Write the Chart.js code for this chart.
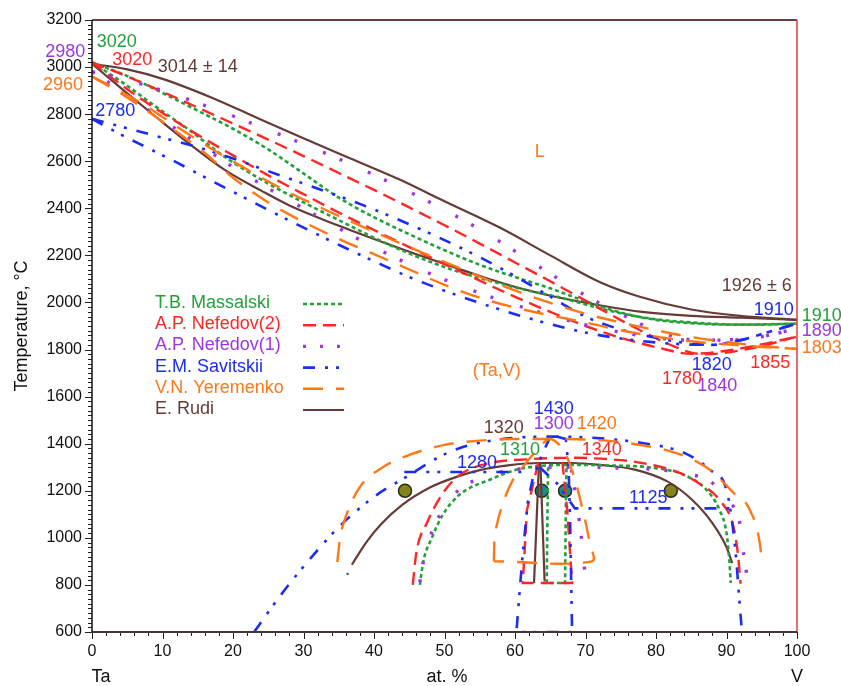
<!DOCTYPE html>
<html>
<head>
<meta charset="utf-8">
<script src="https://cdn.jsdelivr.net/npm/chart.js@4.4.1/dist/chart.umd.min.js"></script>
<style>
  html, body { margin: 0; padding: 0; background: #fff; }
  canvas { display: block; }
</style>
</head>
<body>
<canvas id="phaseChart" width="841" height="686"></canvas>
<script>
// Ta–V phase diagram, points are [at.% V, temperature °C]

// liquidus / solidus
const massalskiLiquidus = [[0,3020],[5,2962],[10,2890],[15,2815],[20,2738],[25,2650],[30,2548],[35,2445],[40,2362],[45,2290],[50,2222],[55,2160],[60,2108],[65,2060],[70,2005],[75,1957],[80,1926],[85,1912],[90,1906],[95,1906],[100,1910]];
const massalskiSolidus = [[0,3020],[4.4,2933],[9,2833],[14,2728],[19,2615],[25,2505],[30,2425],[35,2350],[40,2275],[45,2208],[51,2140],[57,2087],[62,2050],[66,2024],[73,1968],[78,1937],[85,1915],[92,1906],[100,1910]];
const nefedov2Liquidus = [[0,3020],[5,2960],[10,2895],[15,2828],[20,2760],[25,2692],[30,2622],[35,2550],[40,2478],[45,2404],[50,2328],[55,2250],[60,2170],[65,2090],[70,2008],[75,1925],[80,1848],[83,1808],[85,1787],[87,1780],[90,1787],[95,1815],[100,1855]];
const nefedov2Solidus = [[0,3020],[3,2950],[6,2885],[10,2805],[15,2712],[20,2625],[25,2540],[30,2460],[35,2382],[40,2308],[45,2235],[50,2163],[55,2093],[60,2024],[65,1960],[70,1900],[75,1850],[80,1810],[85,1782],[90,1795],[95,1822],[100,1855]];
const nefedov1Liquidus = [[0,2980],[5,2945],[10,2900],[15,2848],[20,2792],[25,2733],[30,2673],[35,2610],[40,2542],[45,2470],[50,2393],[55,2310],[60,2218],[65,2122],[70,2030],[75,1951],[80,1880],[85,1842],[90,1840],[95,1855],[100,1890]];
const nefedov1Solidus = [[0,2980],[3,2922],[6,2860],[9,2797],[12,2735],[16,2655],[20,2575],[25,2485],[30,2400],[35,2315],[40,2235],[45,2162],[50,2097],[55,2040],[60,1990],[65,1945],[70,1905],[75,1873],[80,1850],[85,1840],[90,1841],[95,1855],[100,1890]];
const savitskiiLiquidus = [[0,2780],[5,2740],[10,2700],[15,2660],[20,2612],[25,2558],[30,2505],[35,2452],[40,2395],[45,2332],[50,2265],[55,2192],[60,2112],[65,2025],[70,1940],[75,1885],[80,1850],[85,1825],[88,1820],[92,1840],[96,1875],[100,1910]];
const savitskiiSolidus = [[0,2780],[4,2715],[8,2655],[12,2595],[16,2532],[20,2470],[25,2393],[30,2318],[35,2245],[40,2175],[45,2108],[50,2050],[55,1998],[60,1950],[65,1908],[70,1872],[75,1847],[80,1830],[85,1821],[88,1820],[92,1840],[96,1875],[100,1910]];
const yeremenkoLiquidus = [[0,2960],[4,2898],[8,2828],[12,2748],[17,2652],[22,2565],[27,2482],[33,2395],[40,2300],[47,2210],[53,2135],[59,2062],[65,1998],[70,1952],[75,1915],[80,1882],[85,1853],[90,1832],[95,1815],[100,1803]];
const yeremenkoSolidus = [[0,2960],[4,2890],[8,2810],[12,2725],[16,2635],[20,2530],[25,2425],[30,2342],[35,2270],[40,2205],[45,2140],[50,2075],[55,2020],[60,1978],[65,1945],[70,1915],[75,1882],[80,1855],[85,1835],[90,1822],[95,1811],[100,1803]];
const rudiLiquidus = [[0,3014],[5,2990],[10,2950],[17,2870],[23,2790],[29.5,2704],[36,2620],[43.7,2521],[50,2430],[57.9,2317],[65,2200],[72,2087],[77.7,2024],[85,1970],[91.9,1943],[100,1926]];
const rudiSolidus = [[0,3014],[4.4,2903],[9,2790],[14,2670],[19,2560],[24,2475],[28,2412],[34,2338],[40,2270],[46,2205],[52,2143],[56,2103],[61,2058],[66,2022],[72,1988],[78,1960],[85,1943],[92,1935],[100,1926]];

// miscibility gaps (domes)
const massalskiDome = [[46.5,800],[47,900],[48.2,1000],[49.8,1100],[52.2,1185],[56.5,1248],[60.3,1290],[63.5,1305],[68,1310],[74,1307],[79,1300],[84,1267],[87.2,1203],[89,1119],[90,1021],[90.4,906],[90.6,808]];
const nefedov2Dome = [[45.5,800],[46,936],[47.5,1063],[49.8,1191],[52.2,1268],[56.5,1318],[62,1334],[68,1340],[75,1330],[78,1318],[83,1280],[86,1233],[89,1161],[91,1046],[91.6,936],[92,805]];
const nefedov1Dome = [[46.5,812],[47,900],[48.2,1025],[49.4,1100],[51.9,1200],[56,1262],[60,1290],[65,1300],[70,1300],[74,1297],[80,1290],[84,1274],[88,1233],[90,1161],[92,1046],[92.3,961],[93,821]];
const savitskiiDome = [[23,600],[27,766],[32,948],[35,1046],[40,1174],[45,1267],[49,1340],[52,1380],[56,1410],[60,1425],[65,1430],[71,1425],[78,1403],[84,1361],[87.7,1288],[90,1203],[91,1021],[91.4,900],[91.9,706],[92.2,600]];
const yeremenkoDome = [[34.8,897],[35.2,1000],[36.2,1106],[38,1216],[41.3,1301],[45,1352],[50,1395],[55,1413],[60,1420],[65,1420],[70,1418],[74,1410],[77.7,1395],[81.6,1372],[85,1335],[87.7,1288],[91,1191],[93.3,1119],[94.8,961],[95,897]];
const rudiDome = [[37,893],[39,985],[41,1058],[44,1140],[48,1215],[52,1262],[55,1288],[59,1308],[63.5,1318],[68,1318],[72,1310],[77,1290],[81.6,1240],[85,1165],[88,1063],[90,961],[90.8,893]];
const rudiDomeTail = [[37,893],[36.3,850],[35.7,815]];

// intermetallic (Laves) phase fields
const massalskiLaves = [[64.7,1300],[64.6,1100],[64.5,808],[67.1,808],[67.2,1100],[67.3,1305]];
const nefedov2Laves = [[63.3,1320],[61.7,1119],[61.1,808],[68.1,808],[67.4,1119],[66.7,1330]];
const nefedov1Laves = [[68,1290],[69,1100],[69.7,936],[70,808]];
const savitskiiLavesLeft = [[65,1430],[63.5,1330],[62.5,1250],[61.8,1148],[61,900],[60.2,600],[68.1,600]];
const savitskiiLavesRight = [[66,1430],[67.2,1420],[67.6,1300],[67.8,1090],[68.1,600]];
const savitskiiEutectoid = [[44.3,1280],[61,1280]];
const savitskiiPeritectoid = [[63.5,1300],[66,1230],[68.5,1125],[90.5,1125]];
const yeremenkoLaves = [[57,900],[57.2,1021],[58.3,1148],[59.7,1246],[61.1,1301],[63.5,1386],[65,1420],[66.8,1374],[68.2,1276],[69.6,1119],[70.6,978],[70.9,900],[57,900]];
const rudiLavesLeft = [[63.4,1320],[62.7,808]];
const rudiLavesRight = [[63.6,1320],[64.2,815]];

// experimental points at 1200 °C
const olivePoints = [[44.4,1200],[82.1,1200]];
const tealPoints = [[63.8,1200],[67.1,1200]];

const GREEN = '#23a03a';
const RED = '#ff2626';
const PURPLE = '#9b36e2';
const BLUE = '#1c2cf2';
const ORANGE = '#ff7818';
const BROWN = '#653b37';

const styles = {
  massalski: { color: GREEN, dash: [4, 3], width: 2.6 },
  nefedov2: { color: RED, dash: [13, 7], width: 2.4 },
  nefedov1: { color: PURPLE, dash: [3, 15, 3, 28], width: 3.4 },
  savitskii: { color: BLUE, dash: [12, 10, 3, 8, 3, 10], width: 2.6 },
  yeremenko: { color: ORANGE, dash: [20, 13], width: 2.4 },
  rudi: { color: BROWN, dash: [], width: 2.2 }
};

const legendItems = [
  ['T.B. Massalski', 'massalski'],
  ['A.P. Nefedov(2)', 'nefedov2'],
  ['A.P. Nefedov(1)', 'nefedov1'],
  ['E.M. Savitskii', 'savitskii'],
  ['V.N. Yeremenko', 'yeremenko'],
  ['E. Rudi', 'rudi']
];

// text, at.% V, °C, colour
const valueLabels = [
  ['3020', 3.5, 3108, GREEN], ['2980', -3.8, 3065, PURPLE], ['3020', 5.7, 3031, RED],
  ['3014 ± 14', 15, 3001, BROWN], ['2960', -4.1, 2925, ORANGE], ['2780', 3.3, 2814, BLUE],
  ['L', 63.5, 2640, ORANGE], ['1926 ± 6', 94.3, 2070, BROWN], ['1910', 96.7, 1968, BLUE],
  ['1910', 103.5, 1943, GREEN], ['1890', 103.5, 1879, PURPLE], ['1803', 103.5, 1807, ORANGE],
  ['1820', 87.9, 1735, BLUE], ['1855', 96.2, 1743, RED], ['1780', 83.7, 1675, RED],
  ['1840', 88.7, 1646, PURPLE], ['(Ta,V)', 57.4, 1709, ORANGE],
  ['1320', 58.4, 1467, BROWN], ['1430', 65.5, 1548, BLUE], ['1300', 65.5, 1484, PURPLE],
  ['1420', 71.6, 1484, ORANGE], ['1310', 60.7, 1373, GREEN], ['1340', 72.3, 1373, RED],
  ['1280', 54.6, 1318, BLUE], ['1125', 78.9, 1170, BLUE]
];

const FONT = '"Liberation Sans", Arial, sans-serif';

function toXY(points) {
  return points.map(p => ({ x: p[0], y: p[1] }));
}

function curve(points, key, smooth) {
  const s = styles[key];
  return {
    data: toXY(points),
    showLine: true,
    pointRadius: 0,
    borderColor: s.color,
    borderWidth: s.width,
    borderDash: s.dash,
    borderCapStyle: 'butt',
    fill: false,
    tension: 0,
    cubicInterpolationMode: smooth ? 'monotone' : 'default'
  };
}

function markers(points, fill) {
  return {
    data: toXY(points),
    showLine: false,
    pointRadius: 6.5,
    pointBackgroundColor: fill,
    pointBorderColor: '#2a2a1a',
    pointBorderWidth: 1.5
  };
}

const datasets = [
  curve(yeremenkoLiquidus, 'yeremenko', true),
  curve(yeremenkoSolidus, 'yeremenko', true),
  curve(savitskiiLiquidus, 'savitskii', true),
  curve(savitskiiSolidus, 'savitskii', true),
  curve(nefedov1Liquidus, 'nefedov1', true),
  curve(nefedov1Solidus, 'nefedov1', true),
  curve(nefedov2Liquidus, 'nefedov2', true),
  curve(nefedov2Solidus, 'nefedov2', true),
  curve(massalskiLiquidus, 'massalski', true),
  curve(massalskiSolidus, 'massalski', true),
  curve(rudiLiquidus, 'rudi', true),
  curve(rudiSolidus, 'rudi', true),

  curve(yeremenkoDome, 'yeremenko', true),
  Object.assign(curve(yeremenkoLaves, 'yeremenko', false), { tension: 0.35 }),
  curve(savitskiiDome, 'savitskii', true),
  curve(savitskiiLavesLeft, 'savitskii', false),
  curve(savitskiiLavesRight, 'savitskii', false),
  curve(savitskiiEutectoid, 'savitskii', false),
  curve(savitskiiPeritectoid, 'savitskii', false),
  curve(nefedov1Dome, 'nefedov1', true),
  curve(nefedov1Laves, 'nefedov1', false),
  curve(nefedov2Dome, 'nefedov2', true),
  curve(nefedov2Laves, 'nefedov2', false),
  curve(massalskiDome, 'massalski', true),
  curve(massalskiLaves, 'massalski', false),
  curve(rudiDome, 'rudi', true),
  curve(rudiLavesLeft, 'rudi', false),
  curve(rudiLavesRight, 'rudi', false),
  Object.assign(curve(rudiDomeTail, 'rudi', false), { borderDash: [2, 9] }),

  markers(olivePoints, '#84841a'),
  markers(tealPoints, '#1b8a8c')
];

// frame, minor ticks, legend, value labels and axis captions
const decorations = {
  id: 'decorations',
  afterDraw(chart) {
    const { ctx, chartArea: a, scales: { x, y } } = chart;
    ctx.save();

    // tick marks
    ctx.strokeStyle = '#222';
    ctx.lineWidth = 1;
    for (let t = 600; t <= 3200; t += 20) {
      const py = Math.round(y.getPixelForValue(t)) + 0.5;
      const len = t % 200 === 0 ? 7 : 4;
      ctx.beginPath();
      ctx.moveTo(a.left, py);
      ctx.lineTo(a.left - len, py);
      ctx.stroke();
    }
    for (let t = 0; t <= 100; t += 2) {
      const px = Math.round(x.getPixelForValue(t)) + 0.5;
      const len = t % 10 === 0 ? 7 : 4;
      ctx.beginPath();
      ctx.moveTo(px, a.bottom);
      ctx.lineTo(px, a.bottom + len);
      ctx.stroke();
    }

    // frame
    ctx.lineWidth = 2;
    ctx.strokeStyle = '#6a3c3c';
    ctx.beginPath();
    ctx.moveTo(a.left, a.top);
    ctx.lineTo(a.right, a.top);
    ctx.stroke();
    ctx.strokeStyle = '#e83a3a';
    ctx.lineWidth = 1.5;
    ctx.beginPath();
    ctx.moveTo(a.right, a.top);
    ctx.lineTo(a.right, a.bottom);
    ctx.stroke();
    ctx.strokeStyle = '#4a3434';
    ctx.lineWidth = 2;
    ctx.beginPath();
    ctx.moveTo(a.left, a.bottom);
    ctx.lineTo(a.right, a.bottom);
    ctx.stroke();
    ctx.strokeStyle = '#111';
    ctx.lineWidth = 1.5;
    ctx.beginPath();
    ctx.moveTo(a.left, a.top);
    ctx.lineTo(a.left, a.bottom);
    ctx.stroke();

    // value labels
    ctx.font = '18px ' + FONT;
    ctx.textAlign = 'center';
    ctx.textBaseline = 'middle';
    valueLabels.forEach(([text, vx, vy, color]) => {
      ctx.fillStyle = color;
      ctx.fillText(text, x.getPixelForValue(vx), y.getPixelForValue(vy));
    });

    // legend
    ctx.textAlign = 'left';
    legendItems.forEach(([name, key], i) => {
      const s = styles[key];
      const rowY = 303 + i * 21.2;
      ctx.fillStyle = s.color;
      ctx.fillText(name, 155, rowY);
      ctx.strokeStyle = s.color;
      ctx.lineWidth = s.width;
      ctx.setLineDash(key === 'nefedov1' ? [3, 14] : s.dash);
      ctx.beginPath();
      ctx.moveTo(303, rowY + 1);
      ctx.lineTo(344, rowY + 1);
      ctx.stroke();
      ctx.setLineDash([]);
    });

    // axis captions
    ctx.fillStyle = '#111';
    ctx.textAlign = 'center';
    ctx.fillText('Ta', 101, 677);
    ctx.fillText('at. %', 447, 677);
    ctx.fillText('V', 797, 677);
    ctx.translate(22, 326);
    ctx.rotate(-Math.PI / 2);
    ctx.fillText('Temperature, °C', 0, 0);

    ctx.restore();
  }
};

const plainTick = v => String(v);

new Chart(document.getElementById('phaseChart'), {
  type: 'scatter',
  data: { datasets },
  options: {
    responsive: false,
    animation: false,
    layout: { padding: { left: 0, right: 44, top: 20, bottom: 0 } },
    plugins: { legend: { display: false }, tooltip: { enabled: false } },
    scales: {
      x: {
        type: 'linear',
        min: 0,
        max: 100,
        grid: { display: false, drawTicks: false },
        border: { display: false },
        ticks: { stepSize: 10, padding: 10, maxRotation: 0, color: '#111', font: { family: FONT, size: 16 }, callback: plainTick },
        afterFit: s => { s.height = 54; }
      },
      y: {
        min: 600,
        max: 3200,
        grid: { display: false, drawTicks: false },
        border: { display: false },
        ticks: { stepSize: 200, padding: 10, color: '#111', font: { family: FONT, size: 16 }, callback: plainTick },
        afterFit: s => { s.width = 92; }
      }
    }
  },
  plugins: [decorations]
});
</script>
</body>
</html>
